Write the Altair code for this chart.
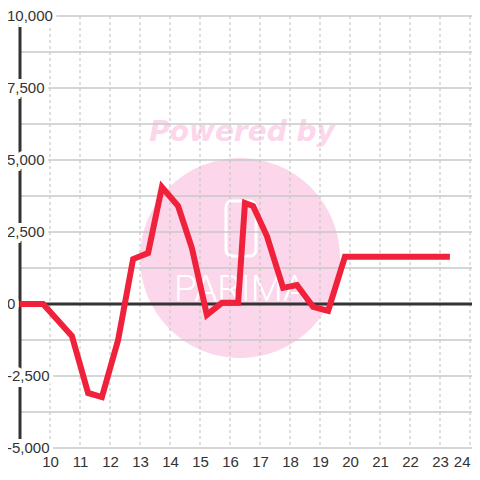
import altair as alt
import pandas as pd

# ---- data ----
xs = [9.0, 9.77, 10.73, 11.27, 11.73, 12.27, 12.77, 13.27, 13.73, 14.27, 14.73,
      15.23, 15.73, 16.27, 16.5, 16.77, 17.23, 17.77, 18.23, 18.77, 19.27, 19.83, 23.33]
vals = [0, 0, -1110, -3090, -3230, -1250, 1560, 1770, 4060, 3400, 1940,
        -380, 40, 40, 3510, 3400, 2360, 560, 660, -100, -240, 1640, 1640]

x_ticks = list(range(10, 25))
y_grid = [-5000, -3750, -2500, -1250, 0, 1250, 2500, 3750, 5000, 6250, 7500, 8750, 10000]
y_label_vals = [10000, 7500, 5000, 2500, 0, -2500, -5000]
y_label_txt = ["10,000", "7,500", "5,000", "2,500", "0", "-2,500", "-5,000"]

line_df = pd.DataFrame({"x": xs, "v": vals})
xgrid_df = pd.DataFrame({"x": x_ticks})
ygrid_df = pd.DataFrame({"v": y_grid})
ylab_df = pd.DataFrame({"v": y_label_vals, "t": y_label_txt})
zero_df = pd.DataFrame({"v": [0]})
yax_df = pd.DataFrame({"x": [9.0]})
one = pd.DataFrame({"a": [0]})

W, H = 452, 432
xscale = alt.Scale(domain=[9, 9 + W / 30], nice=False, zero=False)
yscale = alt.Scale(domain=[-5000, 10000], nice=False, zero=False)
FONT = "Liberation Sans"
PINK = "#fcd6ea"

xaxis = alt.Axis(values=x_ticks, format="d", grid=False, domain=False, ticks=False,
                 tickSize=0, labelFontSize=15, labelColor="#333333", labelFont=FONT,
                 labelPadding=6, title=None, labelFlush=4, labelOverlap=False)

circle = alt.Chart(one).mark_point(filled=True, shape="circle", size=40000,
                                   color=PINK, opacity=1).encode(
    x=alt.value(220), y=alt.value(242))

powered = alt.Chart(one).mark_text(text="Powered by", font="DejaVu Sans", fontSize=28,
                                   fontWeight="bold", fontStyle="italic", color=PINK,
                                   align="center", baseline="middle").encode(
    x=alt.value(222), y=alt.value(117))

logo_box = alt.Chart(one).mark_rect(fillOpacity=0, stroke="white", strokeWidth=3,
                                    cornerRadius=6).encode(
    x=alt.value(206), x2=alt.value(236), y=alt.value(185), y2=alt.value(240))

logo_txt = alt.Chart(one).mark_text(text="PARIMA", font="Roboto", fontSize=37,
                                    fontWeight=300, color="white", align="center",
                                    baseline="middle").encode(
    x=alt.value(220), y=alt.value(274))

hgrid = alt.Chart(ygrid_df).mark_rule(color="#c8c8c8", strokeWidth=1.5).encode(
    y=alt.Y("v:Q", scale=yscale, axis=None))

vgrid = alt.Chart(xgrid_df).mark_rule(color="#c8c8c8", strokeWidth=1.2,
                                      strokeDash=[3, 3]).encode(
    x=alt.X("x:Q", scale=xscale, axis=xaxis))

zero = alt.Chart(zero_df).mark_rule(color="#333333", strokeWidth=3).encode(
    y=alt.Y("v:Q", scale=yscale, axis=None))

yaxis_line = alt.Chart(yax_df).mark_rule(color="#333333", strokeWidth=3).encode(
    x=alt.X("x:Q", scale=xscale, axis=xaxis))

line = alt.Chart(line_df).mark_line(color="#f0213a", strokeWidth=6,
                                    strokeJoin="miter").encode(
    x=alt.X("x:Q", scale=xscale, axis=xaxis),
    y=alt.Y("v:Q", scale=yscale, axis=None))

halo = alt.Chart(ylab_df).mark_text(font=FONT, fontSize=15, align="left", baseline="middle",
                                    stroke="white", strokeWidth=8, color="white").encode(
    x=alt.value(-13), y=alt.Y("v:Q", scale=yscale, axis=None), text="t:N")

ylabels = alt.Chart(ylab_df).mark_text(font=FONT, fontSize=15, align="left",
                                       baseline="middle", color="#333333").encode(
    x=alt.value(-13), y=alt.Y("v:Q", scale=yscale, axis=None), text="t:N")

chart = alt.layer(circle, powered, logo_box, logo_txt, hgrid, vgrid, zero, yaxis_line,
                  line, halo, ylabels).properties(
    width=W, height=H,
    autosize=alt.AutoSizeParams(type="none"),
    padding={"left": 12, "top": 8, "right": 0, "bottom": 24},
    background="white",
).configure_view(stroke=None)

chart.save("out.html", embed_options={"renderer": "svg", "actions": False})
